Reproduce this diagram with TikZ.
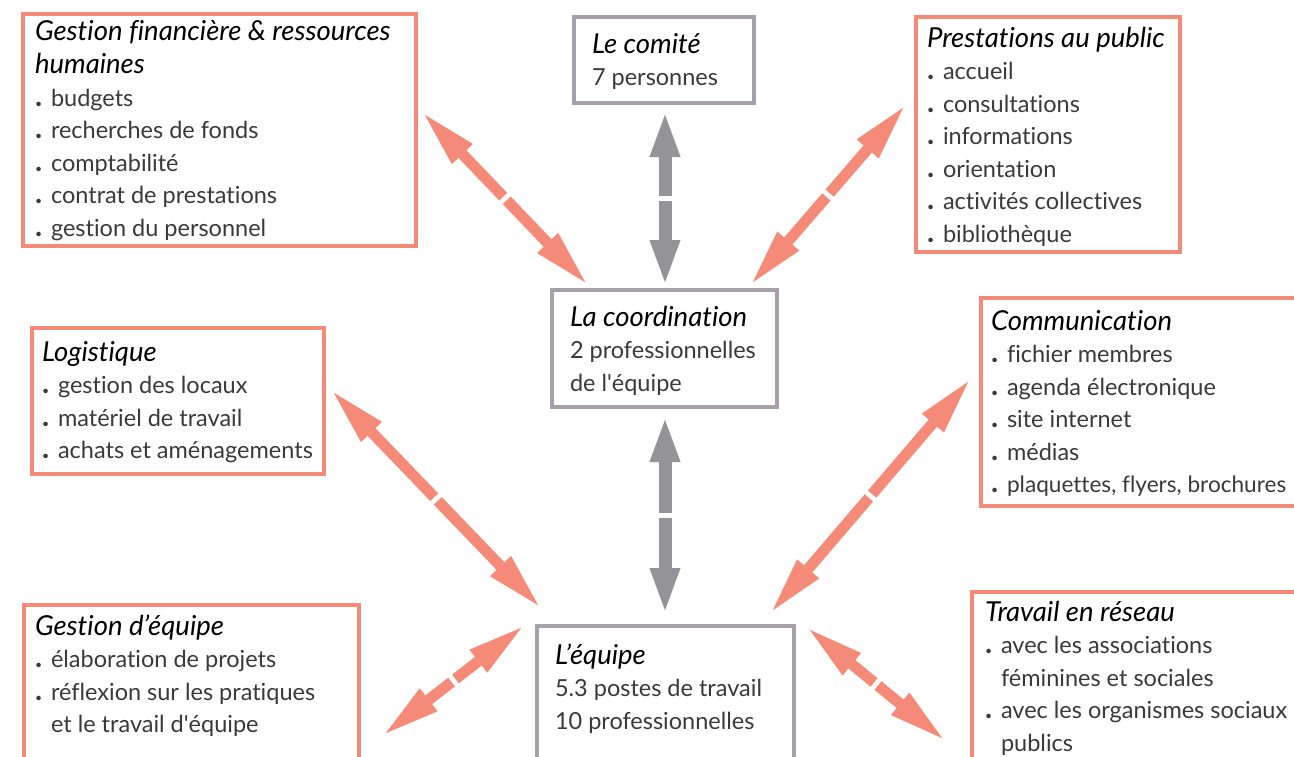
\documentclass[tikz,border=0pt]{standalone}
\usepackage{fontspec}
\setmainfont{Lato}[Ligatures={TeX,NoCommon}]
\usetikzlibrary{arrows.meta,calc}
\definecolor{salmon}{HTML}{F58A78}
\definecolor{boxgray}{HTML}{A89FAC}
\definecolor{arrgray}{HTML}{949498}
\definecolor{txt}{HTML}{3A3A3A}
\newcommand{\bu}{\makebox[16pt][l]{{\fontsize{30}{30}\selectfont\bfseries .}}}
\newcommand{\ttl}[1]{\rule{0pt}{24pt}{\fontsize{27.5}{32.5}\selectfont\itshape\color{black}#1}}
\newcommand{\ind}{\hspace*{16pt}}
\newcommand{\dbl}[3]{%
  \draw[#1] ($(#2)!0.5!(#3)!2.5pt!(#2)$) -- (#2);
  \draw[#1] ($(#2)!0.5!(#3)!2.5pt!(#3)$) -- (#3);}
\begin{document}
\begin{tikzpicture}[x=1pt,y=-1pt,
  sbox/.style={draw=salmon, line width=4pt, anchor=north west, inner sep=0, outer sep=0},
  gbox/.style={draw=boxgray, line width=4pt, anchor=north west, inner sep=0, outer sep=0},
  txtnode/.style={anchor=north west, inner sep=0, outer sep=0, align=left, font=\fontsize{23.5}{32.5}\selectfont, text=txt},
  sarrow/.style={draw=salmon, line width=11pt, -{Triangle[length=54pt,width=29pt,line width=0.1pt]}},
  garrow/.style={draw=arrgray, line width=13pt, -{Triangle[length=42pt,width=31pt,line width=0.1pt]}},
]
\useasboundingbox (0,0) rectangle (1294,756);
\clip (0,0) rectangle (1294,756);
\fill[white] (0,0) rectangle (1294,756);

% boxes
\node[sbox, minimum width=393pt, minimum height=232pt] (gfbox) at (23,14) {};
\node[gbox, minimum width=180pt, minimum height=86pt] (combox) at (574,17) {};
\node[sbox, minimum width=264pt, minimum height=235pt] (prbox) at (916,17) {};
\node[gbox, minimum width=225pt, minimum height=117pt] (cobox) at (552,290) {};
\node[sbox, minimum width=292pt, minimum height=146pt] (lobox) at (32,328) {};
\node[sbox, minimum width=340pt, minimum height=208pt] (cmbox) at (981,298) {};
\node[sbox, minimum width=335pt, minimum height=180pt] (gebox) at (24,605) {};
\node[gbox, minimum width=257pt, minimum height=160pt] (eqbox) at (537,626) {};
\node[sbox, minimum width=340pt, minimum height=200pt] (trbox) at (972,592) {};

% texts (y = first baseline - 24)
\node[txtnode] (gf) at (35,16) {\ttl{Gestion financière \& ressources}\\[1pt]\ttl{humaines}\\\bu budgets\\\bu recherches de fonds\\\bu comptabilité\\\bu contrat de prestations\\\bu gestion du personnel};
\node[txtnode] (com) at (592,29) {\ttl{Le comité}\\7 personnes};
\node[txtnode] (pr) at (927,23) {\ttl{Prestations au public}\\\bu accueil\\\bu consultations\\\bu informations\\\bu orientation\\\bu activités collectives\\\bu bibliothèque};
\node[txtnode] (co) at (570,302) {\ttl{La coordination}\\2 professionnelles\\de l\textquotesingle équipe};
\node[txtnode] (lo) at (42,337) {\ttl{Logistique}\\\bu gestion des locaux\\\bu matériel de travail\\\bu achats et aménagements};
\node[txtnode] (cm) at (991,306) {\ttl{Communication}\\\bu fichier membres\\\bu agenda électronique\\\bu site internet\\\bu médias\\\bu {\fontsize{22.6}{32.5}\selectfont plaquettes, flyers, brochures}};
\node[txtnode] (ge) at (35,611) {\ttl{Gestion d’équipe}\\\bu élaboration de projets\\\bu réflexion sur les pratiques\\\ind et le travail d\textquotesingle équipe};
\node[txtnode] (eq) at (555,640) {\ttl{L’équipe}\\5.3 postes de travail\\10 professionnelles};
\node[txtnode] (tr) at (985,597) {\ttl{Travail en réseau}\\\bu avec les associations\\\ind féminines et sociales\\\bu avec les organismes sociaux\\\ind publics};

% arrow end points
\coordinate (a1) at (425,115); \coordinate (b1) at (585,282);
\coordinate (a2) at (665,115); \coordinate (b2) at (665,282);
\coordinate (a3) at (903,108); \coordinate (b3) at (753,282);
\coordinate (a4) at (334,393); \coordinate (b4) at (538,605);
\coordinate (a5) at (665,420); \coordinate (b5) at (665,610);
\coordinate (a6) at (968,382); \coordinate (b6) at (773,610);
\coordinate (a7) at (521,628); \coordinate (b7) at (386,733);
\coordinate (a8) at (810,630); \coordinate (b8) at (942,738);

\dbl{sarrow}{a1}{b1}
\dbl{garrow}{a2}{b2}
\dbl{sarrow}{a3}{b3}
\dbl{sarrow}{a4}{b4}
\dbl{garrow}{a5}{b5}
\dbl{sarrow}{a6}{b6}
\dbl{sarrow}{a7}{b7}
\dbl{sarrow}{a8}{b8}
\end{tikzpicture}
\end{document}
